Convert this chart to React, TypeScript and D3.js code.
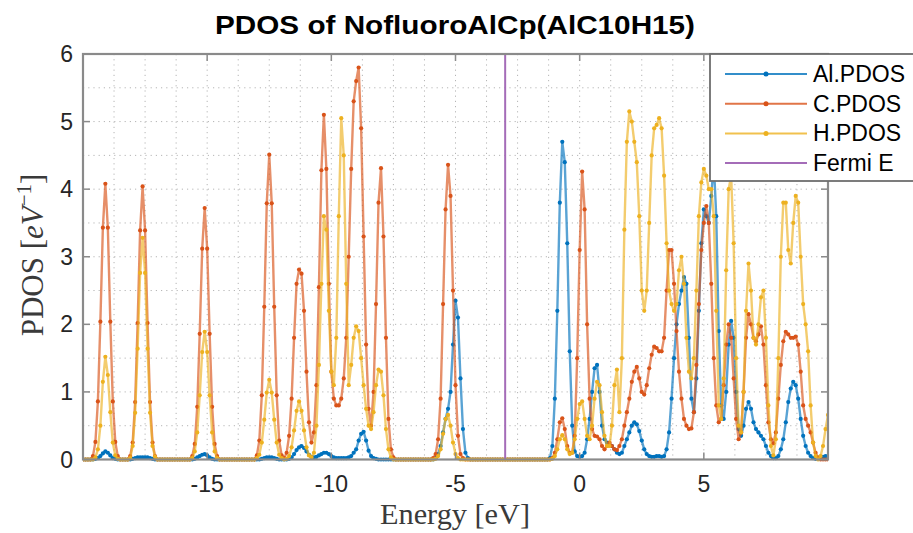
import React from 'react';
import * as d3 from 'd3';

// Energy grid: first energy and step (eV); one value per grid point below
const energyStart = -20;
const energyStep = 0.1;

// Al PDOS, rows of 1 eV (10 samples), from -20 eV to 10 eV
const alPdos = [
  0,0,0,0,0,0.01,0.02,0.05,0.09,0.12,
  0.1,0.06,0.02,0.01,0,0,0,0,0,0,
  0.01,0.02,0.03,0.03,0.03,0.03,0.03,0.02,0.01,0,
  0,0,0,0,0,0,0,0,0,0,
  0,0,0,0,0,0.01,0.03,0.05,0.07,0.08,
  0.06,0.03,0.01,0,0,0,0,0,0,0,
  0,0,0,0,0,0,0,0,0,0,
  0,0,0.01,0.02,0.03,0.03,0.03,0.02,0.01,0,
  0,0,0,0.01,0.03,0.08,0.14,0.18,0.2,0.17,
  0.12,0.07,0.04,0.03,0.04,0.06,0.08,0.1,0.1,0.08,
  0.05,0.03,0.02,0.02,0.02,0.02,0.02,0.03,0.05,0.1,
  0.15,0.28,0.38,0.41,0.28,0.13,0.05,0.02,0.01,0,
  0,0,0,0,0,0,0,0,0,0,
  0,0,0,0,0,0,0,0,0,0,
  0,0,0.02,0.08,0.2,0.4,0.6,0.75,1.0,1.7,
  2.35,2.1,1.2,0.45,0.1,0.02,0,0,0,0,
  0,0,0,0,0,0,0,0,0,0,
  0,0,0,0,0,0,0,0,0,0,
  0,0,0,0,0,0,0,0,0.02,0.2,
  0.9,2.2,3.8,4.7,4.4,3.2,1.6,0.5,0.12,0.05,
  0.04,0.05,0.1,0.3,0.6,1.0,1.35,1.4,1.0,0.5,
  0.3,0.25,0.22,0.2,0.15,0.1,0.08,0.1,0.2,0.3,
  0.4,0.5,0.55,0.52,0.42,0.28,0.15,0.08,0.05,0.04,
  0.04,0.05,0.05,0.04,0.05,0.15,0.4,0.9,1.5,2.0,
  2.3,2.5,2.7,2.6,1.8,0.9,0.7,1.2,2.2,3.2,
  3.7,3.6,3.5,3.9,4.4,3.6,1.9,0.8,0.6,1.0,
  1.7,2.05,1.8,1.0,0.45,0.35,0.5,0.75,0.85,0.75,
  0.55,0.45,0.4,0.35,0.3,0.2,0.1,0.05,0.02,0.02,
  0.05,0.15,0.3,0.55,0.85,1.05,1.15,1.1,0.9,0.6,
  0.35,0.2,0.1,0.05,0.02,0.01,0.02,0.03,0.04,0.05,
  0.05,
];

// C PDOS
const cPdos = [
  0,0,0,0,0.05,0.26,0.86,2.04,3.43,4.08,
  3.43,2.04,0.86,0.26,0.05,0,0,0,0,0.05,
  0.25,0.85,2.02,3.39,4.04,3.39,2.02,0.85,0.25,0.05,
  0,0,0,0,0,0,0,0,0,0,
  0,0,0,0,0.05,0.23,0.78,1.86,3.12,3.72,
  3.12,1.86,0.78,0.23,0.05,0,0,0,0,0,
  0,0,0,0,0,0,0,0,0,0,
  0.06,0.28,0.95,2.26,3.79,4.51,3.79,2.26,0.95,0.28,
  0.06,0.02,0.1,0.35,0.9,1.8,2.6,2.81,2.75,2.2,
  1.3,0.55,0.25,0.4,1.1,2.55,4.28,5.1,4.3,2.6,
  1.3,0.9,0.8,0.8,0.9,1.2,1.8,3.0,4.3,5.3,
  5.6,5.8,4.9,3.3,1.7,0.75,0.5,1.0,2.3,3.8,
  4.31,3.3,1.8,0.6,0.15,0.03,0,0,0,0,
  0,0,0,0,0,0,0,0,0,0,
  0,0.02,0.08,0.3,0.9,2.3,3.7,4.36,3.9,2.5,
  1.1,0.35,0.08,0.02,0,0,0,0,0,0,
  0,0,0,0,0,0,0,0,0,0,
  0,0,0,0,0,0,0,0,0,0,
  0,0,0,0,0,0,0,0,0,0.02,
  0.1,0.3,0.55,0.61,0.45,0.2,0.1,0.1,0.35,1.5,
  3.1,4.26,3.7,2.0,0.9,0.45,0.35,0.34,0.3,0.2,
  0.15,0.2,0.25,0.2,0.15,0.14,0.2,0.3,0.5,0.7,
  0.9,1.15,1.3,1.37,1.2,1.0,0.96,1.1,1.35,1.55,
  1.67,1.65,1.6,1.6,1.8,2.5,3.1,3.1,2.6,1.9,
  1.3,0.9,0.6,0.5,0.45,0.46,0.7,1.4,2.3,3.1,
  3.5,3.75,3.5,2.6,1.5,0.8,0.55,0.6,1.1,1.7,
  2.0,1.8,1.2,0.6,0.3,0.4,1.0,1.8,2.15,2.0,
  1.8,1.75,1.85,1.97,1.7,1.1,0.55,0.3,0.24,0.4,
  0.9,1.4,1.75,1.89,1.85,1.8,1.8,1.82,1.7,1.3,
  0.8,0.6,0.5,0.4,0.25,0.1,0.03,0,0,0,
  0,
];

// H PDOS
const hPdos = [
  0,0,0,0,0,0.03,0.15,0.5,1.15,1.52,
  1.25,0.7,0.25,0.06,0.01,0,0,0,0,0.02,
  0.2,0.69,1.64,2.76,3.28,2.76,1.64,0.69,0.2,0.04,
  0,0,0,0,0,0,0,0,0,0,
  0,0,0,0,0.02,0.12,0.4,0.95,1.59,1.89,
  1.59,0.95,0.4,0.12,0.02,0,0,0,0,0,
  0,0,0,0,0,0,0,0,0,0,
  0.02,0.07,0.25,0.59,0.99,1.18,0.99,0.59,0.25,0.07,
  0.02,0,0.01,0.05,0.18,0.43,0.72,0.86,0.72,0.43,
  0.18,0.06,0.03,0.1,0.5,1.4,2.6,3.6,3.4,2.2,
  1.3,1.1,1.8,3.6,5.05,4.5,2.6,1.1,1.4,1.8,
  1.97,1.9,1.5,1.1,0.75,0.5,0.45,0.7,1.1,1.33,
  1.3,0.95,0.45,0.15,0.03,0,0,0,0,0,
  0,0,0,0,0,0,0,0,0,0,
  0,0,0.01,0.05,0.15,0.38,0.6,0.66,0.5,0.25,
  0.08,0.02,0,0,0,0,0,0,0,0,
  0,0,0,0,0,0,0,0,0,0,
  0,0,0,0,0,0,0,0,0,0,
  0,0,0,0,0,0,0,0,0,0.01,
  0.05,0.15,0.3,0.36,0.3,0.15,0.08,0.1,0.3,0.6,
  0.82,0.86,0.6,0.35,0.3,0.5,0.9,1.15,1.1,0.7,
  0.35,0.2,0.2,0.5,1.1,1.33,0.7,1.5,3.4,4.7,
  5.15,5.0,4.7,4.4,3.6,2.5,2.2,2.5,3.5,4.5,
  4.9,4.95,5.05,4.9,4.2,3.2,2.5,2.3,2.2,2.3,
  2.8,3.0,2.6,1.8,1.3,1.2,1.5,2.5,3.6,4.1,
  4.3,4.2,4.0,4.0,3.6,2.2,0.8,0.6,1.2,2.8,
  4.0,4.2,3.2,1.5,0.5,0.4,1.0,2.2,2.9,2.5,
  1.8,1.7,2.0,2.4,2.5,1.8,0.8,0.2,0.06,0.3,
  1.5,3.0,3.8,3.8,3.1,2.9,3.5,3.9,3.8,3.0,
  2.3,2.0,1.6,0.8,0.25,0.05,0,0.05,0.2,0.45,
  0.66,
];

const fermiEnergy = -3.0;

const xTicks = [-15, -10, -5, 0, 5];
const yTicks = [0, 1, 2, 3, 4, 5, 6];
const xDomain = [-20, 10];
const yDomain = [0, 6];
const xMinorStep = 1.25;
const yMinorStep = 0.5;

const legendNames = ['Al.PDOS', 'C.PDOS', 'H.PDOS', 'Fermi E'];
const colors = ['#0072BD', '#D95319', '#EDB120', '#A46CB8'];

const titleText = 'PDOS of NofluoroAlCp(AlC10H15)';

export default function App() {
  const W = 913, H = 533;
  const L = 83, R = 828, T = 54, B = 459.5;
  const x = d3.scaleLinear().domain(xDomain).range([L, R]);
  const y = d3.scaleLinear().domain(yDomain).range([B, T]);

  const series = [alPdos, cPdos, hPdos].map((vals) =>
    vals.map((v, i) => [energyStart + i * energyStep, v] as [number, number])
  );
  const line = d3.line<[number, number]>().x((d) => x(d[0])).y((d) => y(d[1]));

  const xGrid = d3.range(xDomain[0], xDomain[1] + 1e-6, xMinorStep);
  const yGrid = d3.range(yDomain[0], yDomain[1] + 1e-6, yMinorStep);

  const sans = "'Liberation Sans', Arial, Helvetica, sans-serif";
  const serif = "'Liberation Serif', 'Times New Roman', serif";
  const axisColor = '#8a8a8a';
  const textColor = '#262626';

  return (
    <svg width={W} height={H} style={{ position: 'absolute', left: 0, top: 0, background: '#fff' }}>
      <defs>
        <clipPath id="plotclip">
          <rect x={L} y={T - 3} width={R - L} height={B - T + 6} />
        </clipPath>
      </defs>
      <rect x={0} y={0} width={W} height={H} fill="#fff" />
      <rect x={L} y={T} width={R - L} height={B - T} fill="#fff" />
      {/* grid */}
      <g stroke="#b5b5b5" strokeWidth={1} strokeDasharray="1.2,4">
        {xGrid.map((g, i) => (
          <line key={'gx' + i} x1={x(g)} x2={x(g)} y1={T} y2={B} />
        ))}
        {yGrid.map((g, i) => (
          <line key={'gy' + i} x1={L} x2={R} y1={y(g)} y2={y(g)} />
        ))}
      </g>
      {/* data */}
      <g clipPath="url(#plotclip)">
        {series.map((s, k) => (
          <g key={'s' + k}>
            <path d={line(s) || ''} fill="none" stroke={colors[k]} strokeWidth={2.4} strokeOpacity={0.65} strokeLinejoin="round" />
            {s.map((d, i) => (
              <circle key={i} cx={x(d[0])} cy={y(d[1])} r={2.1} fill={colors[k]} />
            ))}
          </g>
        ))}
        <line x1={x(fermiEnergy)} x2={x(fermiEnergy)} y1={y(yDomain[0])} y2={y(yDomain[1])} stroke={colors[3]} strokeWidth={2} />
      </g>
      {/* axes box */}
      <rect x={L} y={T} width={R - L} height={B - T} fill="none" stroke={axisColor} strokeWidth={2.2} />
      {/* ticks */}
      <g stroke={axisColor} strokeWidth={1.5}>
        {xTicks.map((t) => (
          <g key={'xt' + t}>
            <line x1={x(t)} x2={x(t)} y1={B} y2={B - 7} />
            <line x1={x(t)} x2={x(t)} y1={T} y2={T + 7} />
          </g>
        ))}
        {yTicks.map((t) => (
          <g key={'yt' + t}>
            <line x1={L} x2={L + 7} y1={y(t)} y2={y(t)} />
            <line x1={R} x2={R - 7} y1={y(t)} y2={y(t)} />
          </g>
        ))}
      </g>
      {/* tick labels */}
      <g fontFamily={sans} fontSize={23} fill={textColor}>
        {xTicks.map((t) => (
          <text key={'xl' + t} x={x(t)} y={492} textAnchor="middle">{t}</text>
        ))}
        {yTicks.map((t) => (
          <text key={'yl' + t} x={73} y={y(t) + 8} textAnchor="end">{t}</text>
        ))}
      </g>
      {/* title */}
      <text x={455} y={34} textAnchor="middle" fontFamily={sans} fontWeight="bold" fontSize={25} fill="#000" textLength={480} lengthAdjust="spacingAndGlyphs">
        {titleText}
      </text>
      {/* x label */}
      <text x={455} y={524} textAnchor="middle" fontFamily={serif} fontSize={29} fill="#3a3a3a" textLength={150} lengthAdjust="spacingAndGlyphs">
        Energy [eV]
      </text>
      {/* y label */}
      <text transform="translate(43,255) rotate(-90)" textAnchor="middle" fontFamily={serif} fontSize={31} fill="#3a3a3a">
        <tspan>PDOS [</tspan>
        <tspan fontStyle="italic">eV</tspan>
        <tspan fontSize={21} dy={-12}>−1</tspan>
        <tspan dy={12}>]</tspan>
      </text>
      {/* legend */}
      <g>
        <rect x={710} y={54} width={260} height={127} fill="#fff" stroke="#6e6e6e" strokeWidth={1.8} />
        {legendNames.map((n, k) => {
          const cy = 74 + k * 29.7;
          return (
            <g key={'lg' + k}>
              <line x1={725} x2={807} y1={cy} y2={cy} stroke={colors[k]} strokeWidth={2} strokeOpacity={k < 3 ? 0.8 : 1} />
              {k < 3 && <circle cx={766} cy={cy} r={2.5} fill={colors[k]} />}
              <text x={813} y={cy + 8} fontFamily={sans} fontSize={23} fill="#000">{n}</text>
            </g>
          );
        })}
      </g>
    </svg>
  );
}
